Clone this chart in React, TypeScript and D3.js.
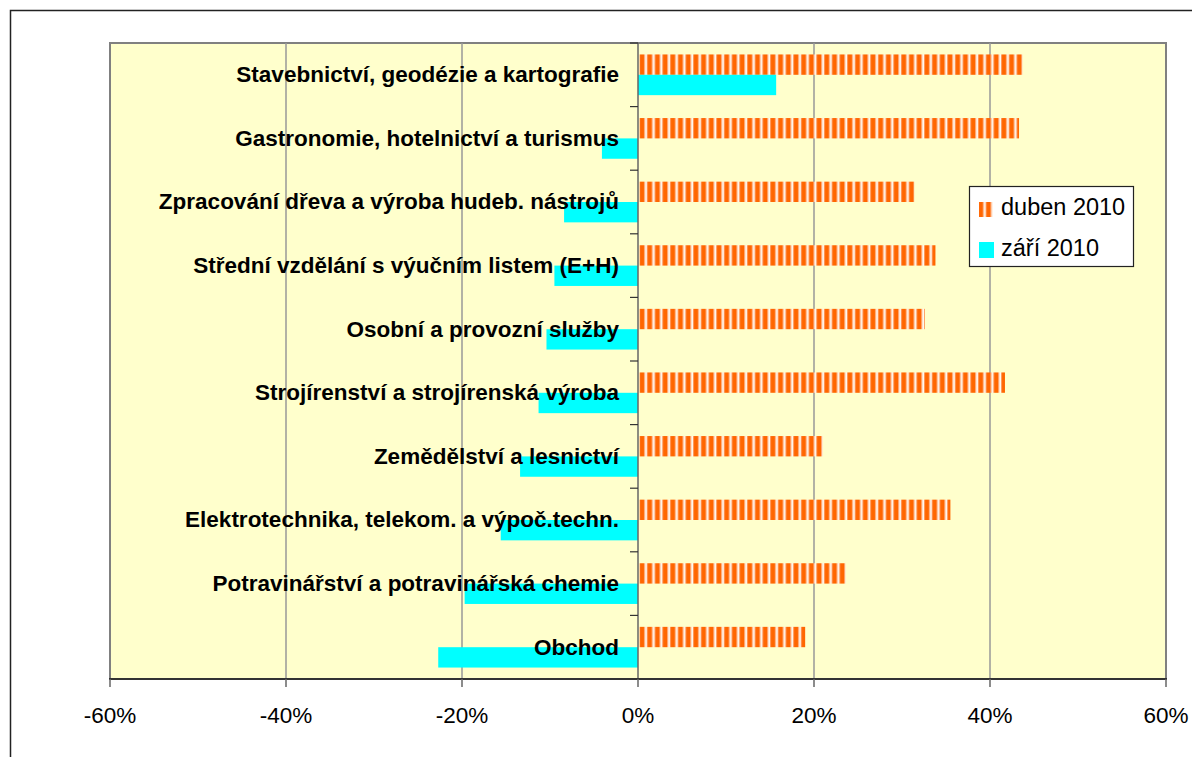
import React from "react";
import * as d3 from "d3";

const categories = [
  "Stavebnictví, geodézie a kartografie",
  "Gastronomie, hotelnictví a turismus",
  "Zpracování dřeva a výroba hudeb. nástrojů",
  "Střední vzdělání s výučním listem (E+H)",
  "Osobní a provozní služby",
  "Strojírenství a strojírenská výroba",
  "Zemědělství a lesnictví",
  "Elektrotechnika, telekom. a výpoč.techn.",
  "Potravinářství a potravinářská chemie",
  "Obchod",
];

// duben 2010 (oranžové pruhy), v %
const duben = [43.7, 43.3, 31.4, 33.8, 32.6, 41.7, 21.0, 35.5, 23.6, 19.0];
// září 2010 (tyrkysové), v %
const zari = [15.7, -4.1, -8.4, -9.5, -10.4, -11.3, -13.4, -15.6, -19.7, -22.7];

const seriesNames = ["duben 2010", "září 2010"];
const xTicks = [-60, -40, -20, 0, 20, 40, 60];

const W = 1192;
const H = 757;
const plot = { left: 110, top: 43, right: 1166, bottom: 679 };
const FONT = "Arial, 'Liberation Sans', Helvetica, sans-serif";

const App: React.FC = () => {
  const x = d3.scaleLinear().domain([-60, 60]).range([plot.left, plot.right]);
  const y = d3
    .scaleBand<string>()
    .domain(categories)
    .range([plot.top, plot.bottom])
    .paddingInner(0.36)
    .paddingOuter(0.18);
  const inner = d3
    .scaleBand<string>()
    .domain(seriesNames)
    .range([0, y.bandwidth()]);
  const step = y.step();
  const x0 = x(0);

  const bar = (v: number) => ({ x: Math.min(x(v), x0), w: Math.abs(x(v) - x0) });

  return (
    <svg
      width={W}
      height={H}
      style={{ position: "absolute", left: 0, top: 0, display: "block" }}
      fontFamily={FONT}
    >
      <defs>
        <pattern id="stripes" patternUnits="userSpaceOnUse" width={7.7} height={10}>
          <rect width={7.7} height={10} fill="#fff8f0" />
          <rect x={0} width={1} height={10} fill="#ff9a5c" />
          <rect x={1} width={4} height={10} fill="#ff6600" />
          <rect x={5} width={1} height={10} fill="#ff9a5c" />
        </pattern>
      </defs>
      <rect x={0} y={0} width={W} height={H} fill="#fff" />
      {/* vnější rámeček */}
      <rect x={10.5} y={10.5} width={W + 10} height={H + 10} fill="none" stroke="#222" strokeWidth={1.5} />

      {/* plocha grafu */}
      <rect
        x={plot.left}
        y={plot.top}
        width={plot.right - plot.left}
        height={plot.bottom - plot.top}
        fill="#ffffcc"
        stroke="#808080"
        strokeWidth={2}
      />

      {/* mřížka */}
      {xTicks
        .filter((t) => t !== 0 && Math.abs(t) !== 60)
        .map((t) => (
          <line key={t} x1={x(t)} x2={x(t)} y1={plot.top} y2={plot.bottom} stroke="#999" strokeWidth={1.5} />
        ))}

      {/* pruhy */}
      {categories.map((c, i) => {
        const b1 = bar(duben[i]);
        const b2 = bar(zari[i]);
        const yb = y(c) ?? 0;
        return (
          <g key={c}>
            <rect
              x={b1.x + 1.5}
              y={yb + (inner(seriesNames[0]) ?? 0)}
              width={Math.max(0, b1.w - 1.5)}
              height={inner.bandwidth()}
              fill="url(#stripes)"
            />
            <rect
              x={b2.x}
              y={yb + (inner(seriesNames[1]) ?? 0)}
              width={b2.w}
              height={inner.bandwidth()}
              fill="#00ffff"
            />
          </g>
        );
      })}

      {/* svislá osa v nule */}
      <line x1={x0} x2={x0} y1={plot.top} y2={plot.bottom} stroke="#666" strokeWidth={1.5} />
      {d3.range(categories.length + 1).map((k) => {
        const ty = plot.top + k * step;
        return <line key={k} x1={x0 - 8} x2={x0} y1={ty} y2={ty} stroke="#333" strokeWidth={1.2} />;
      })}

      {/* popisky kategorií */}
      {categories.map((c) => (
        <text
          key={c}
          x={x0 - 19}
          y={(y(c) ?? 0) + y.bandwidth() / 2}
          dy="0.33em"
          textAnchor="end"
          fontSize={22.5}
          fontWeight="bold"
          fill="#000"
        >
          {c}
        </text>
      ))}

      {/* osa x */}
      <line x1={plot.left - 1} x2={plot.right + 1} y1={plot.bottom} y2={plot.bottom} stroke="#333" strokeWidth={2} />
      {xTicks.map((t) => (
        <g key={t}>
          <line x1={x(t)} x2={x(t)} y1={plot.bottom} y2={plot.bottom + 8} stroke="#666" strokeWidth={1.5} />
          <text x={x(t)} y={723} textAnchor="middle" fontSize={22.5} fill="#000">
            {`${t}%`}
          </text>
        </g>
      ))}

      {/* legenda */}
      <g>
        <rect x={969.5} y={186.5} width={164} height={80} fill="#fff" stroke="#222" strokeWidth={1.2} />
        <rect x={979} y={202} width={14} height={15} fill="url(#stripes)" />
        <text x={1001} y={215} fontSize={23.5} fill="#000">
          {seriesNames[0]}
        </text>
        <rect x={979} y={242} width={15} height={16} fill="#00ffff" />
        <text x={1001} y={256} fontSize={23.5} fill="#000">
          {seriesNames[1]}
        </text>
      </g>
    </svg>
  );
};

export default App;
